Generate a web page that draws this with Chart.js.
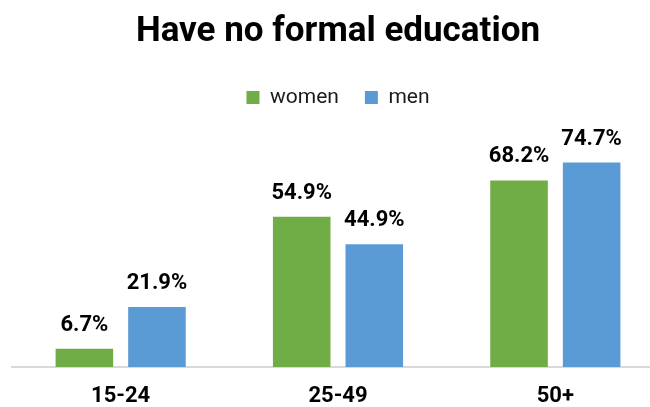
<!DOCTYPE html>
<html>
<head>
<meta charset="utf-8">
<script src="https://cdn.jsdelivr.net/npm/chart.js@4/dist/chart.umd.min.js"></script>
<style>
  html, body { margin: 0; padding: 0; background: #ffffff; overflow: hidden; }
  #wrap { position: relative; width: 676px; height: 407px; }
</style>
</head>
<body>
<div id="wrap"><canvas id="chart"></canvas></div>
<script>
// Age groups and share with no formal education (%)
const categories = ['15-24', '25-49', '50+'];
const women = [6.7, 54.9, 68.2];
const men = [21.9, 44.9, 74.7];
const seriesNames = ['women', 'men'];

const GREEN = '#70AD47';
const BLUE = '#5B9BD5';

// Writes each bar's value above it
const valueLabels = {
  id: 'valueLabels',
  afterDatasetsDraw(chart) {
    const ctx = chart.ctx;
    ctx.save();
    ctx.font = 'bold 22px Roboto';
    ctx.fillStyle = '#000000';
    ctx.textAlign = 'center';
    ctx.textBaseline = 'alphabetic';
    chart.data.datasets.forEach((ds, i) => {
      chart.getDatasetMeta(i).data.forEach((bar, j) => {
        ctx.fillText(ds.data[j].toFixed(1) + '%', bar.x, bar.y - 18);
      });
    });
    ctx.restore();
  }
};

new Chart(document.getElementById('chart'), {
  type: 'bar',
  data: {
    labels: categories,
    datasets: [
      { label: seriesNames[0], data: women, backgroundColor: GREEN },
      { label: seriesNames[1], data: men, backgroundColor: BLUE }
    ]
  },
  options: {
    responsive: true,
    maintainAspectRatio: false,
    animation: false,
    devicePixelRatio: 1,
    layout: { padding: { left: 12, right: 12, top: 0, bottom: -18 } },
    datasets: {
      bar: { categoryPercentage: 0.668, barPercentage: 0.793 }
    },
    plugins: {
      title: {
        display: true,
        text: 'Have no formal education',
        color: '#000000',
        font: { family: 'Roboto', size: 35, weight: 'bold' },
        padding: { top: 11, bottom: 8 }
      },
      legend: {
        display: true,
        position: 'top',
        labels: {
          color: '#1a1a1a',
          font: { family: 'Roboto', size: 21 },
          boxWidth: 13,
          boxHeight: 13,
          padding: 26
        }
      },
      tooltip: { enabled: false }
    },
    scales: {
      x: {
        grid: { display: false, drawTicks: false },
        border: { display: true, color: '#d9d9d9', width: 2 },
        ticks: {
          color: '#000000',
          padding: 18,
          font: { family: 'Roboto', size: 22, weight: 'bold', lineHeight: 1 }
        }
      },
      y: {
        display: false,
        beginAtZero: true,
        min: 0,
        max: 91
      }
    }
  },
  plugins: [valueLabels]
});
</script>
</body>
</html>
